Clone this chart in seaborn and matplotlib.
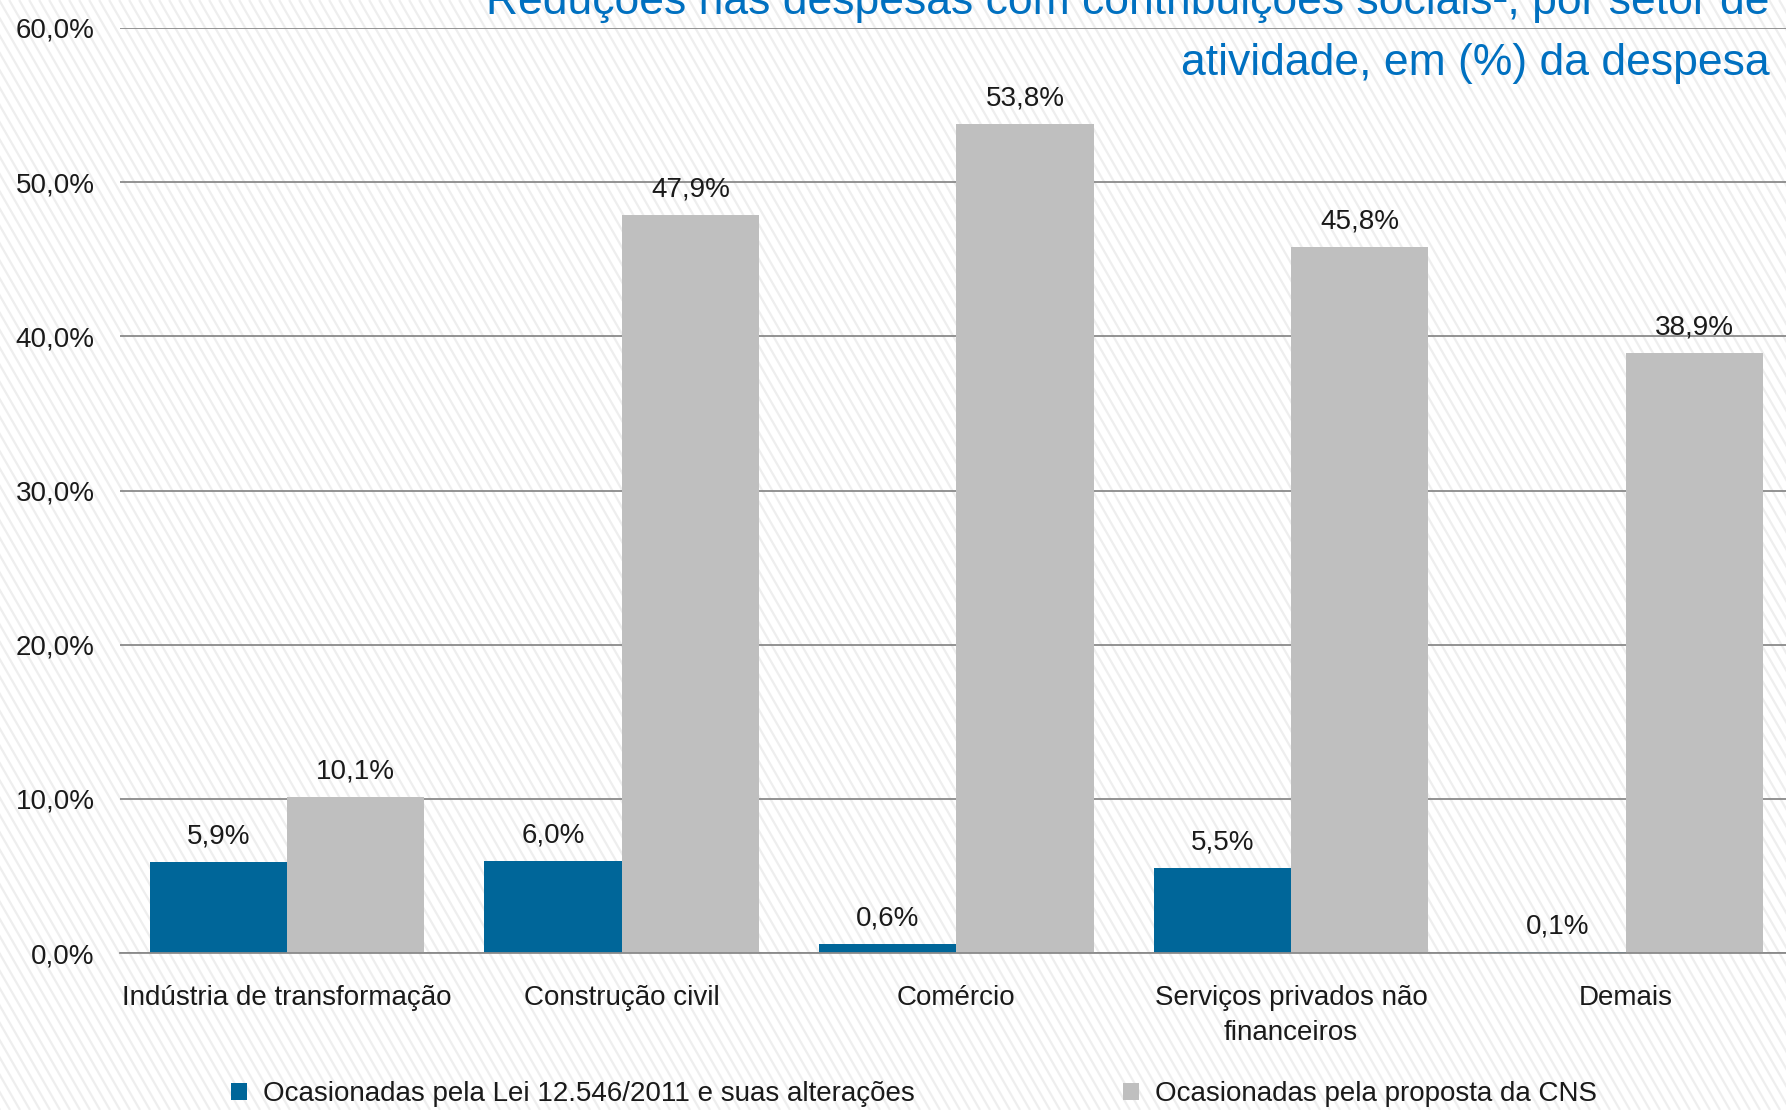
import matplotlib
matplotlib.use("Agg")
import matplotlib.pyplot as plt
import matplotlib.patches as mpatches
from matplotlib.collections import LineCollection
import seaborn as sns
import pandas as pd
import numpy as np

categories = ["Indústria de transformação", "Construção civil", "Comércio",
              "Serviços privados não\nfinanceiros", "Demais"]
series_names = ["Ocasionadas pela Lei 12.546/2011 e suas alterações",
                "Ocasionadas pela proposta da CNS"]
lei_values = [5.9, 6.0, 0.6, 5.5, 0.1]
cns_values = [10.1, 47.9, 53.8, 45.8, 38.9]
y_ticks = [0, 10, 20, 30, 40, 50, 60]
title_line1 = "Reduções nas despesas com contribuições sociais¹, por setor de"
title_line2 = "atividade, em (%) da despesa"

colors = ["#006699", "#BFBFBF"]

df = pd.DataFrame({
    "categoria": categories * 2,
    "serie": [series_names[0]] * 5 + [series_names[1]] * 5,
    "valor": lei_values + cns_values,
})

sns.set_theme(style="white")
plt.rcParams["font.family"] = ["Liberation Sans", "DejaVu Sans"]

W, H = 1786, 1110
fig = plt.figure(figsize=(W / 100, H / 100), dpi=100)
fig.patch.set_facecolor("white")

# decorative diagonal stripes of the background
step = 10.0
dx = H / np.tan(np.radians(60))
starts = np.arange(-dx - 20, W + 20, step)
segs = [[(x0 / W, 1.0), ((x0 + dx) / W, 0.0)] for x0 in starts]
stripes = LineCollection(segs, colors="#eeeeee", linewidths=1.6,
                         transform=fig.transFigure, zorder=-10)
fig.add_artist(stripes)

ax = fig.add_axes([0.067, 0.1414, 0.937, 0.8334])
ax.set_facecolor("none")

sns.barplot(data=df, x="categoria", y="valor", hue="serie", palette=colors,
            width=0.82, gap=0, saturation=1, ax=ax, legend=False, zorder=3,
            edgecolor="none", linewidth=0)

for cont, vals in zip(ax.containers, [lei_values, cns_values]):
    labels = [f"{v:.1f}%".replace(".", ",") for v in vals]
    ax.bar_label(cont, labels=labels, padding=9, fontsize=20, color="#1a1a1a")

ax.set_xlim(-0.5, 4.5)
ax.set_ylim(0, 60)
ax.set_yticks(y_ticks)
ax.set_yticklabels([f"{t:.1f}%".replace(".", ",") for t in y_ticks], fontsize=20, color="#1a1a1a")
ax.yaxis.grid(True, color="#8a8a8a", linewidth=1.3, zorder=0)
ax.set_axisbelow(True)
ax.set_xlabel("")
ax.set_ylabel("")
ax.set_xticks(range(5))
ax.set_xticklabels(categories, fontsize=20, color="#1a1a1a", linespacing=1.45)
ax.set_xticks([i - 0.5 for i in range(6)], minor=True)
ax.tick_params(axis="x", which="major", length=0, pad=23)
ax.tick_params(axis="x", which="minor", length=12, width=1, color="#8a8a8a", direction="out")
ax.tick_params(axis="y", length=0, pad=18)
for s in ["top", "right", "left"]:
    ax.spines[s].set_visible(False)
ax.spines["bottom"].set_color("#8a8a8a")
ax.spines["bottom"].set_linewidth(1.3)
ax.spines["bottom"].set_zorder(4)

fig.text(0.991, 1 - 14 / 1110, title_line1, ha="right", va="baseline",
         fontsize=32, color="#0070C0")
fig.text(0.991, 1 - 75 / 1110, title_line2, ha="right", va="baseline",
         fontsize=32, color="#0070C0")

handles = [mpatches.Patch(facecolor=c, edgecolor="none") for c in colors]
fig.legend(handles, series_names, loc="center", bbox_to_anchor=(0.512, 1 - 1094 / 1110),
           ncol=2, frameon=False, fontsize=20, handlelength=0.55, handleheight=0.55,
           handletextpad=0.6, columnspacing=7.5, labelcolor="#1a1a1a")

fig.savefig("out.png", dpi=100)
